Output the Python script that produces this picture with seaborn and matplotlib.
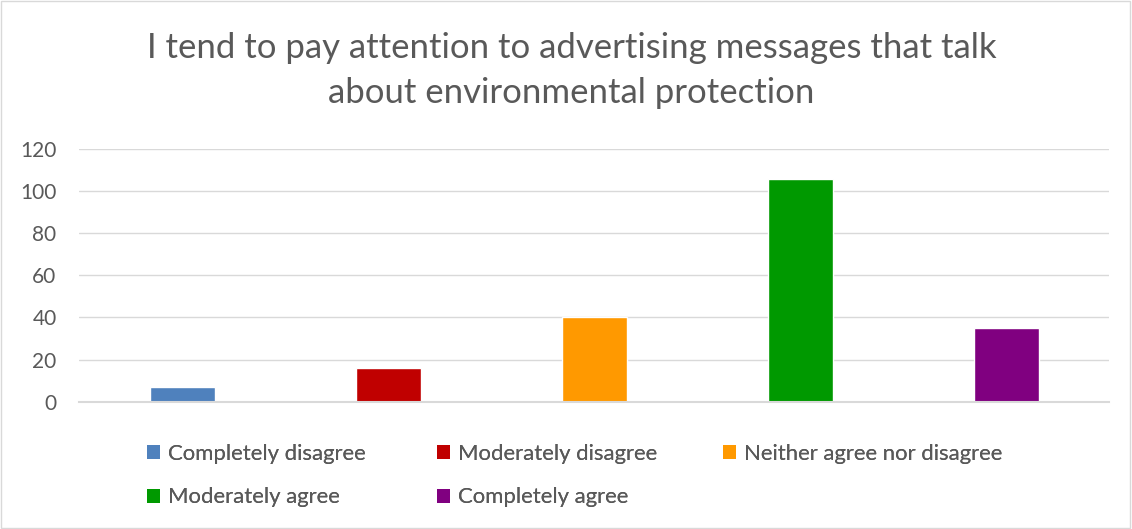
import matplotlib
matplotlib.use("Agg")
import matplotlib.pyplot as plt
import seaborn as sns
import pandas as pd
from matplotlib.patches import Patch, Rectangle

categories = ["Completely disagree", "Moderately disagree", "Neither agree nor disagree",
              "Moderately agree", "Completely agree"]
counts = [7, 16, 40, 106, 35]
colors = ["#4F81BD", "#C00000", "#FF9900", "#009900", "#800080"]
yticks = [0, 20, 40, 60, 80, 100, 120]
title = "I tend to pay attention to advertising messages that talk\nabout environmental protection"

sns.set_theme(style="white")
plt.rcParams["font.family"] = ["Lato", "DejaVu Sans"]

text_color = "#595959"
grid_color = "#D9D9D9"

df = pd.DataFrame({"category": categories, "count": counts})

fig = plt.figure(figsize=(11.32, 5.29), dpi=100)
ax = fig.add_axes([0.0702, 0.2406, 0.9098, 0.4777])

sns.barplot(data=df, x="category", y="count", hue="category", order=categories,
            hue_order=categories, palette=colors, width=0.316, dodge=False,
            saturation=1, legend=False, ax=ax)

ax.set_ylim(0, 120)
ax.set_yticks(yticks)
ax.set_xlim(-0.5, len(categories) - 0.5)
ax.set_xticks([])
ax.set_xlabel("")
ax.set_ylabel("")
ax.yaxis.grid(True, color=grid_color, linewidth=1)
ax.set_axisbelow(True)
for side in ["top", "right", "left"]:
    ax.spines[side].set_visible(False)
ax.spines["bottom"].set_color(grid_color)
ax.spines["bottom"].set_linewidth(1.5)
ax.tick_params(axis="y", length=0, pad=16.5, labelsize=15, labelcolor=text_color)

fig.text(0.505, 0.866, title, ha="center", va="center", fontsize=25,
         color=text_color, linespacing=1.5)

# Legend laid out as three columns: (0, 3), (1, 4), (2)
handles = [Patch(facecolor=c, edgecolor="none") for c in colors]
columns = [[0, 3], [1, 4], [2]]
col_x = [0.1295, 0.386, 0.6387]
for idx, x in zip(columns, col_x):
    leg = fig.legend([handles[i] for i in idx], [categories[i] for i in idx],
                     loc="upper left", bbox_to_anchor=(x, 0.161), ncol=1, frameon=False,
                     fontsize=15.9, labelcolor=text_color, handlelength=0.6,
                     handleheight=0.6, handletextpad=0.35, labelspacing=1.07,
                     borderaxespad=0, borderpad=0)
    fig.add_artist(leg)

fig.patches.append(Rectangle((0.001, 0.002), 0.997, 0.996, transform=fig.transFigure,
                             fill=False, edgecolor=grid_color, linewidth=1))

fig.savefig("out.png", dpi=100)
